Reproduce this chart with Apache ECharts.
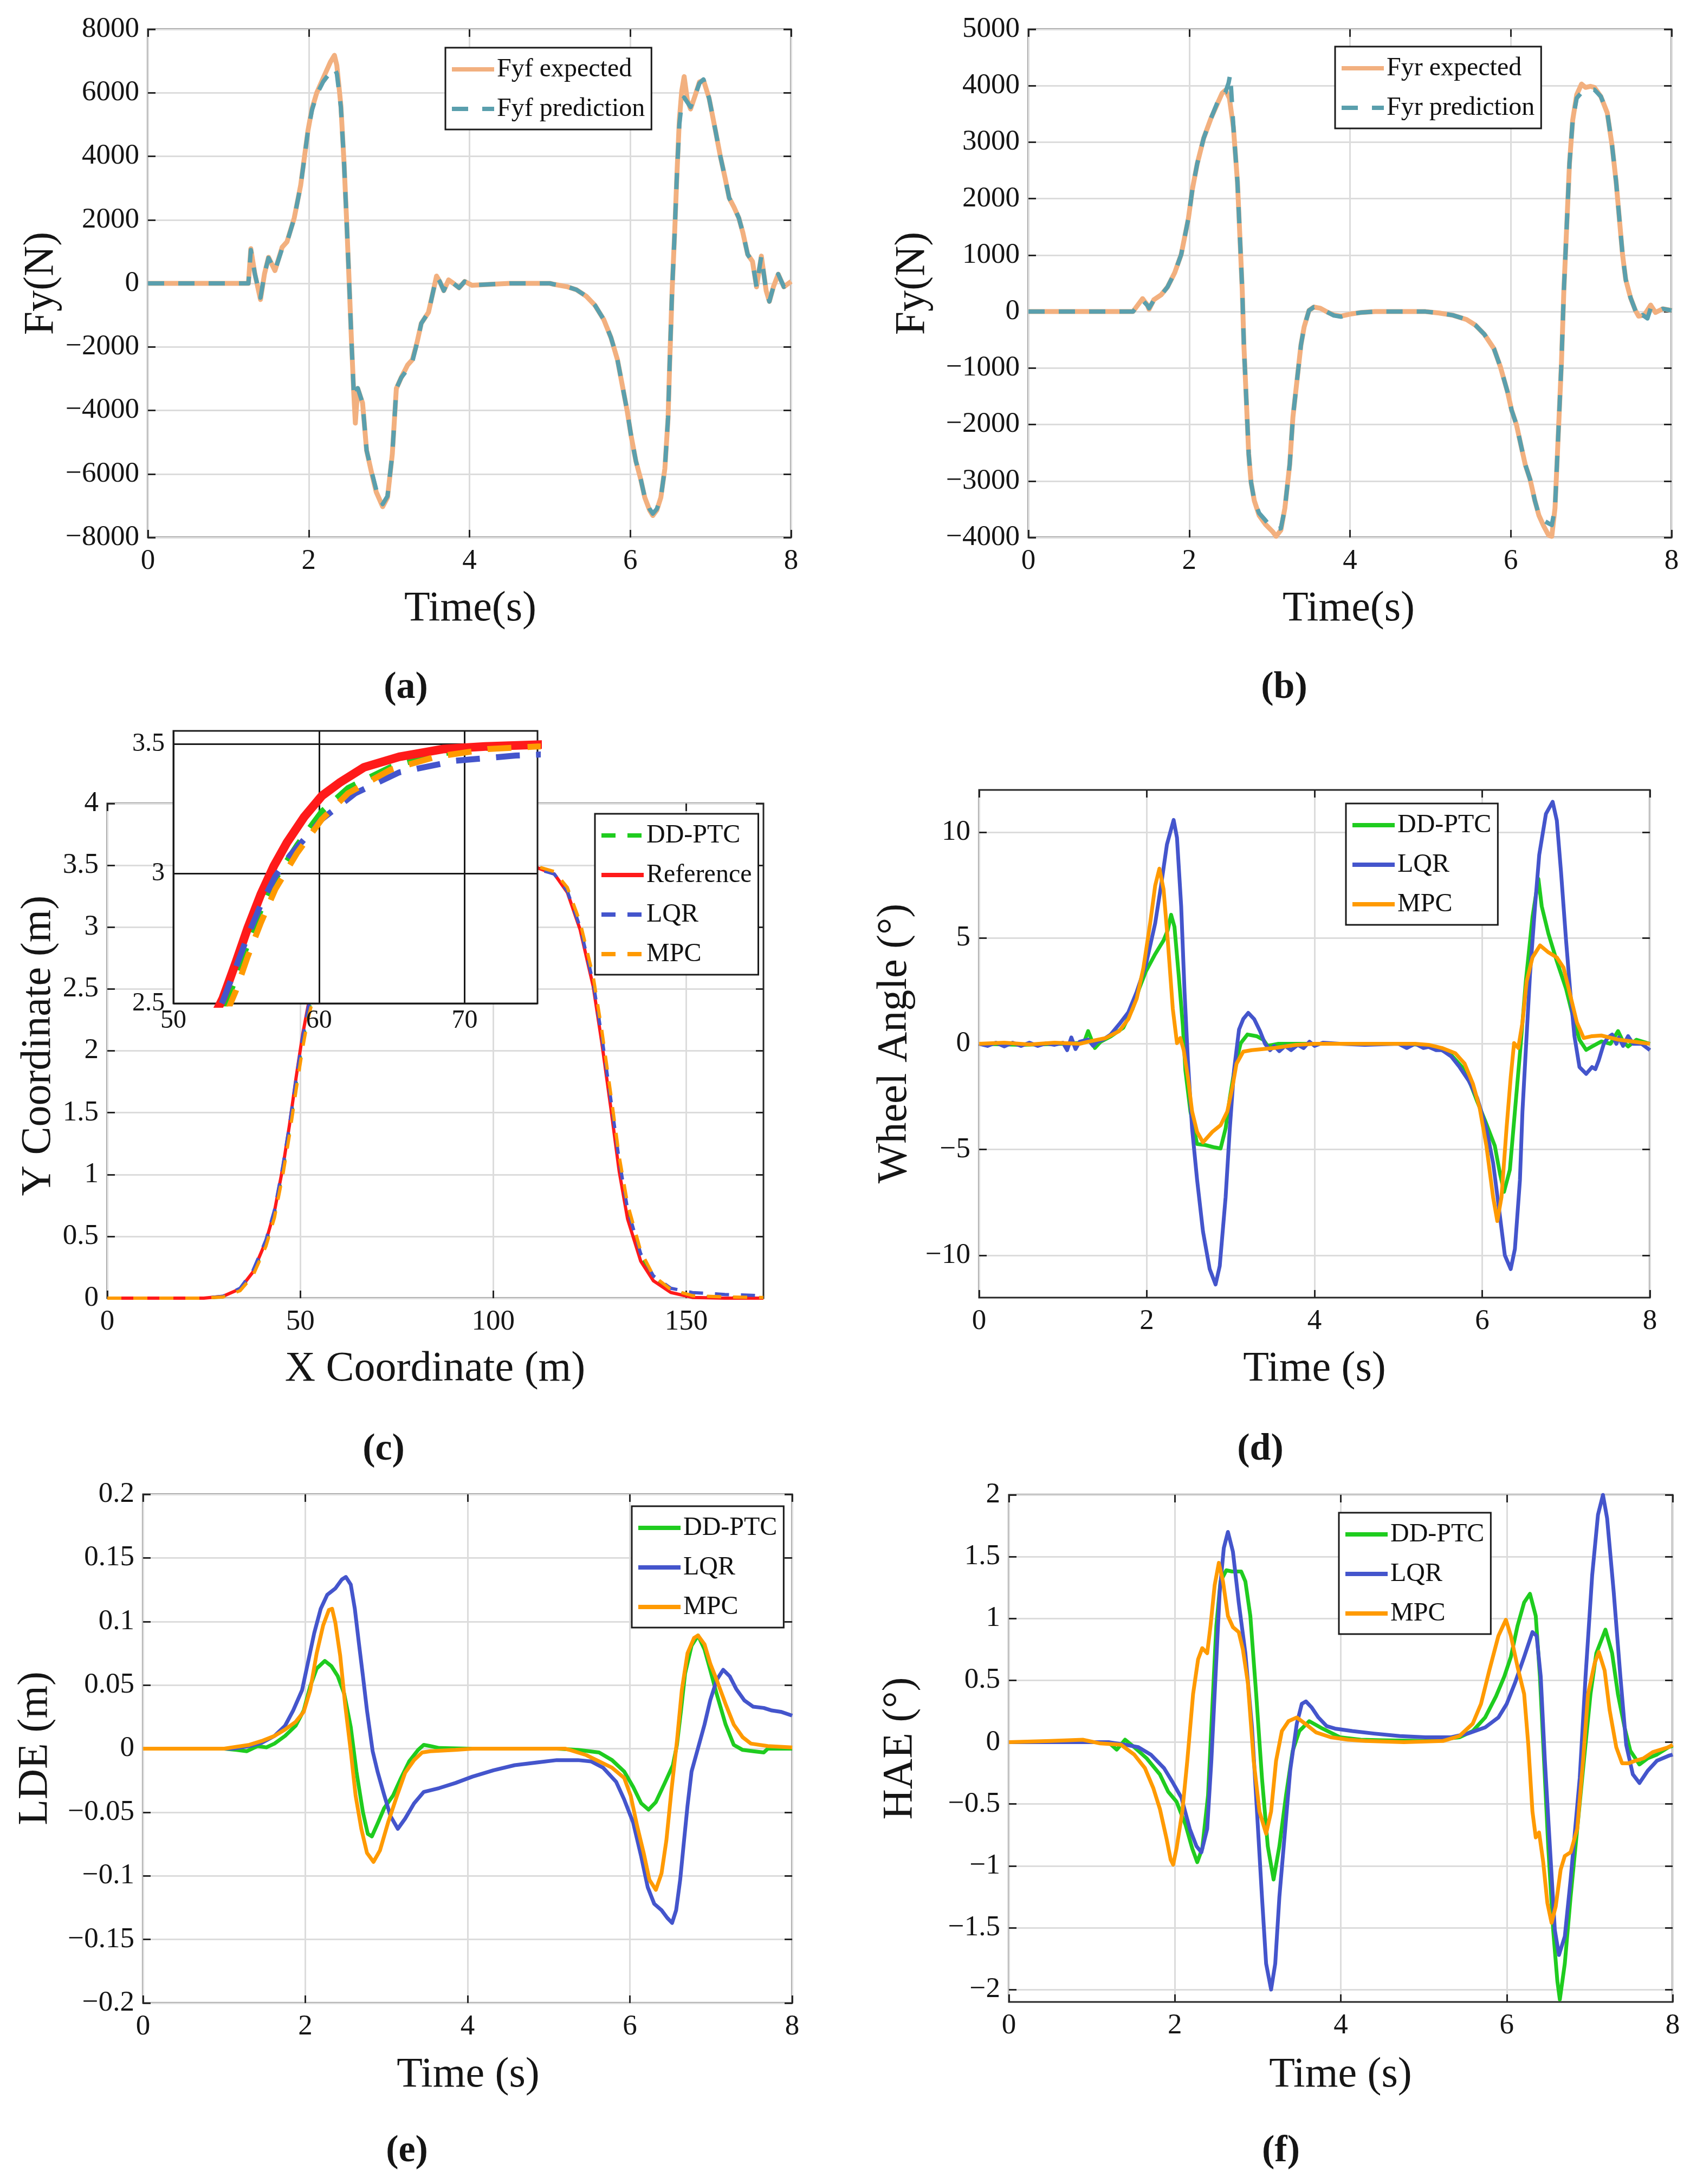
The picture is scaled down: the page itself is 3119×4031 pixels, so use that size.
<!DOCTYPE html>
<html>
<head>
<meta charset="utf-8">
<script src="https://cdn.jsdelivr.net/npm/echarts/dist/echarts.min.js"></script>
<style>
  html, body { margin: 0; padding: 0; background: #fff; }
  #chart { width: 3119px; height: 4031px; }
</style>
</head>
<body>
<div id="chart"></div>
<script>
// ---- (a) front tyre lateral force, [time s, N]
var fyfExpected = [[0,0],[1.25,0],[1.28,1090],[1.33,300],[1.40,-510],[1.45,300],[1.50,820],[1.58,400],[1.67,1140],[1.73,1310],[1.82,2060],[1.90,3090],[1.99,4800],[2.04,5490],[2.10,6000],[2.18,6460],[2.27,6970],[2.32,7180],[2.35,6860],[2.40,5600],[2.44,3770],[2.47,2060],[2.50,230],[2.53,-1710],[2.56,-3430],[2.58,-4400],[2.61,-3310],[2.67,-3770],[2.72,-5260],[2.78,-5940],[2.84,-6570],[2.92,-7030],[2.98,-6740],[3.04,-5370],[3.09,-3310],[3.15,-2970],[3.23,-2570],[3.29,-2400],[3.35,-1830],[3.40,-1260],[3.49,-910],[3.55,-230],[3.59,230],[3.63,60],[3.68,-230],[3.74,110],[3.80,0],[3.87,-140],[3.94,60],[4.03,-60],[4.5,0],[5.0,0],[5.05,-30],[5.22,-110],[5.33,-200],[5.45,-400],[5.56,-690],[5.67,-1140],[5.76,-1710],[5.84,-2400],[5.90,-3200],[5.96,-4000],[6.01,-4800],[6.07,-5600],[6.13,-6170],[6.18,-6740],[6.24,-7140],[6.28,-7310],[6.33,-7140],[6.38,-6740],[6.43,-5830],[6.47,-4230],[6.49,-2510],[6.52,-230],[6.55,1490],[6.58,3430],[6.61,5140],[6.64,6060],[6.67,6510],[6.71,5770],[6.75,5490],[6.81,5940],[6.86,6340],[6.91,6400],[6.98,5830],[7.06,4800],[7.12,4000],[7.18,3310],[7.23,2690],[7.29,2400],[7.35,2060],[7.40,1600],[7.46,910],[7.52,690],[7.57,-110],[7.63,860],[7.69,-230],[7.73,-570],[7.78,-110],[7.84,290],[7.91,-110],[8.0,60]];
var fyfPrediction = [[0,0],[1.25,0],[1.28,1050],[1.33,300],[1.40,-450],[1.45,300],[1.50,800],[1.58,400],[1.67,1100],[1.73,1300],[1.82,2050],[1.90,3080],[1.99,4780],[2.04,5450],[2.10,5950],[2.18,6350],[2.27,6650],[2.32,6780],[2.35,6600],[2.40,5550],[2.44,3770],[2.47,2060],[2.50,230],[2.53,-1710],[2.56,-3430],[2.58,-3600],[2.61,-3300],[2.67,-3770],[2.72,-5260],[2.78,-5900],[2.84,-6500],[2.92,-6950],[2.98,-6700],[3.04,-5370],[3.09,-3310],[3.15,-2970],[3.23,-2700],[3.29,-2450],[3.35,-1850],[3.40,-1260],[3.49,-910],[3.55,-230],[3.59,200],[3.63,60],[3.68,-230],[3.74,110],[3.80,0],[3.87,-140],[3.94,60],[4.03,-60],[4.5,0],[5.0,0],[5.05,-30],[5.22,-110],[5.33,-200],[5.45,-400],[5.56,-690],[5.67,-1140],[5.76,-1710],[5.84,-2400],[5.90,-3200],[5.96,-4000],[6.01,-4800],[6.07,-5600],[6.13,-6170],[6.18,-6740],[6.24,-7100],[6.28,-7250],[6.33,-7100],[6.38,-6740],[6.43,-5830],[6.47,-4230],[6.49,-2510],[6.52,-230],[6.55,1490],[6.58,3430],[6.61,5000],[6.64,5700],[6.67,5850],[6.71,5700],[6.75,5550],[6.81,5950],[6.86,6300],[6.91,6420],[6.98,5830],[7.06,4800],[7.12,4000],[7.18,3310],[7.23,2690],[7.29,2400],[7.35,2060],[7.40,1600],[7.46,910],[7.52,690],[7.57,-110],[7.63,860],[7.69,-230],[7.73,-570],[7.78,-110],[7.84,290],[7.91,-110],[8.0,60]];

// ---- (b) rear tyre lateral force, [time s, N]
var fyrExpected = [[0,0],[1.30,0],[1.36,115],[1.42,230],[1.48,115],[1.50,40],[1.56,210],[1.65,295],[1.73,435],[1.82,690],[1.90,1010],[1.99,1650],[2.04,2170],[2.10,2620],[2.18,3070],[2.27,3420],[2.35,3680],[2.41,3870],[2.45,3920],[2.50,3780],[2.55,3260],[2.60,2300],[2.63,1340],[2.66,370],[2.68,-590],[2.71,-1550],[2.74,-2520],[2.77,-3030],[2.81,-3350],[2.87,-3610],[2.95,-3770],[3.04,-3900],[3.08,-3980],[3.14,-3870],[3.19,-3480],[3.25,-2710],[3.29,-1870],[3.34,-1230],[3.39,-590],[3.43,-270],[3.49,20],[3.55,80],[3.63,60],[3.72,-10],[3.80,-60],[3.89,-80],[4.0,-45],[4.14,-15],[4.31,0],[4.94,0],[5.11,-25],[5.28,-65],[5.45,-140],[5.56,-240],[5.67,-400],[5.79,-655],[5.87,-975],[5.96,-1425],[6.01,-1745],[6.07,-2000],[6.13,-2390],[6.18,-2710],[6.24,-2970],[6.30,-3350],[6.35,-3610],[6.41,-3800],[6.47,-3960],[6.51,-3980],[6.55,-3480],[6.59,-2200],[6.63,-910],[6.66,370],[6.70,1650],[6.73,2620],[6.77,3390],[6.82,3840],[6.88,4030],[6.93,3970],[6.99,3990],[7.04,3970],[7.12,3810],[7.20,3520],[7.26,2940],[7.31,2300],[7.35,1650],[7.39,1010],[7.43,565],[7.49,245],[7.55,20],[7.59,-80],[7.66,-65],[7.74,115],[7.80,-15],[7.89,50],[8.0,20]];
var fyrPrediction = [[0,0],[1.30,0],[1.36,100],[1.42,200],[1.48,110],[1.50,60],[1.56,200],[1.65,290],[1.73,435],[1.82,690],[1.90,1010],[1.99,1650],[2.04,2170],[2.10,2620],[2.18,3070],[2.27,3420],[2.35,3700],[2.40,3860],[2.45,3880],[2.49,4050],[2.51,4200],[2.53,3750],[2.55,3260],[2.60,2300],[2.63,1340],[2.66,370],[2.68,-590],[2.71,-1550],[2.74,-2520],[2.77,-3030],[2.81,-3350],[2.87,-3570],[2.95,-3700],[3.0,-3790],[3.08,-3850],[3.14,-3840],[3.19,-3480],[3.25,-2710],[3.29,-1870],[3.34,-1230],[3.39,-590],[3.43,-270],[3.49,20],[3.55,80],[3.63,60],[3.72,-10],[3.80,-70],[3.89,-90],[4.0,-45],[4.14,-15],[4.31,0],[4.94,0],[5.11,-25],[5.28,-65],[5.45,-140],[5.56,-240],[5.67,-400],[5.79,-655],[5.87,-975],[5.96,-1425],[6.01,-1745],[6.07,-2000],[6.13,-2390],[6.18,-2710],[6.24,-2970],[6.30,-3350],[6.35,-3600],[6.41,-3700],[6.47,-3750],[6.51,-3780],[6.55,-3480],[6.59,-2200],[6.63,-910],[6.66,370],[6.70,1650],[6.73,2620],[6.77,3390],[6.82,3780],[6.88,3880],[6.93,3920],[6.99,3930],[7.04,3930],[7.12,3810],[7.20,3520],[7.26,2940],[7.31,2300],[7.35,1650],[7.39,1010],[7.43,565],[7.49,245],[7.55,20],[7.59,-130],[7.64,-60],[7.70,-120],[7.74,60],[7.80,-15],[7.89,50],[8.0,20]];

// ---- (c) trajectory, [X m, Y m]
var trajDDPTC = [[0,0],[25,0],[30,0.012],[34.4,0.07],[37.7,0.2],[41.1,0.44],[43.3,0.68],[45.5,1.03],[47.2,1.36],[48.9,1.73],[50.6,2.07],[52.0,2.3],[53.4,2.47],[54.3,2.6],[55.1,2.73],[56.0,2.86],[57.0,2.98],[58.5,3.11],[60.2,3.24],[62.0,3.33],[64.9,3.41],[68.0,3.46],[71.6,3.485],[75,3.495],[85,3.5],[108,3.5],[111.4,3.485],[115.8,3.44],[119.2,3.30],[122.5,3.01],[125.9,2.56],[128.1,2.12],[130.4,1.60],[132.6,1.09],[134.8,0.70],[138.2,0.35],[141.5,0.17],[146,0.065],[151.6,0.015],[160,0.005],[170,0]];
var trajReference = [[0,0],[25,0],[30,0.015],[34.4,0.076],[37.7,0.21],[41.1,0.46],[43.3,0.70],[45.5,1.06],[47.2,1.40],[48.9,1.78],[50.6,2.13],[52.0,2.36],[53.4,2.52],[54.3,2.66],[55.1,2.79],[56.0,2.92],[56.9,3.03],[57.8,3.12],[59.0,3.22],[60.2,3.30],[61.4,3.35],[63.1,3.41],[65.5,3.45],[68.5,3.48],[71.4,3.49],[75,3.497],[85,3.5],[108,3.5],[111.4,3.48],[115.8,3.43],[119.2,3.28],[122.5,2.98],[125.9,2.52],[128.1,2.07],[130.4,1.55],[132.6,1.03],[134.8,0.64],[138.2,0.30],[141.5,0.14],[146,0.046],[151.6,0.006],[160,0],[170,0]];
var trajLQR = [[0,0],[25,0],[30,0.015],[34.4,0.08],[37.7,0.22],[41.1,0.47],[43.3,0.71],[45.5,1.07],[47.2,1.40],[48.9,1.77],[50.6,2.11],[52.0,2.34],[53.4,2.51],[54.3,2.64],[55.1,2.76],[56.0,2.88],[57.0,2.99],[58.0,3.07],[60.2,3.21],[62.5,3.31],[65.5,3.39],[69.4,3.435],[73.5,3.455],[80,3.47],[90,3.49],[108,3.49],[111.4,3.47],[115.8,3.43],[119.2,3.29],[122.5,3.0],[125.9,2.55],[128.1,2.12],[130.4,1.62],[132.6,1.12],[134.8,0.72],[138.2,0.36],[141.5,0.18],[146,0.08],[151.6,0.045],[160,0.03],[170,0.02]];
var trajMPC = [[0,0],[25,0],[30,0.01],[34.4,0.06],[37.7,0.18],[41.1,0.42],[43.3,0.65],[45.5,1.0],[47.2,1.32],[48.9,1.68],[50.6,2.02],[52.0,2.26],[53.4,2.43],[54.3,2.55],[55.1,2.68],[56.0,2.81],[57.0,2.94],[58.5,3.08],[60.2,3.21],[62.0,3.31],[64.9,3.40],[68.0,3.45],[71.6,3.48],[75,3.49],[85,3.5],[108,3.5],[111.4,3.49],[115.8,3.45],[119.2,3.32],[122.5,3.04],[125.9,2.60],[128.1,2.17],[130.4,1.66],[132.6,1.15],[134.8,0.76],[138.2,0.38],[141.5,0.18],[146,0.07],[151.6,0.02],[160,0.01],[170,0.005]];

// ---- (d) wheel angle, [time s, deg]
var wheelDDPTC = [[0,0],[0.5,-0.05],[1.0,0],[1.25,0.05],[1.30,0.6],[1.34,0.2],[1.38,-0.2],[1.45,0.1],[1.57,0.35],[1.72,0.76],[1.83,1.65],[1.91,2.62],[1.99,3.43],[2.10,4.24],[2.20,4.89],[2.25,5.37],[2.29,6.1],[2.33,5.53],[2.38,3.27],[2.43,0.84],[2.46,-1.26],[2.52,-3.2],[2.60,-4.74],[2.70,-4.79],[2.81,-4.9],[2.88,-4.95],[2.94,-4.0],[2.99,-2.56],[3.05,-1.1],[3.12,0.03],[3.20,0.44],[3.31,0.36],[3.39,0.19],[3.44,-0.1],[3.57,0],[4.0,0],[5.0,0],[5.3,-0.05],[5.47,-0.2],[5.63,-0.53],[5.76,-1.1],[5.86,-1.9],[5.94,-2.72],[6.04,-3.69],[6.15,-4.82],[6.21,-6.1],[6.26,-7.0],[6.33,-5.95],[6.39,-3.2],[6.46,0],[6.52,2.95],[6.60,6.0],[6.67,7.8],[6.71,6.5],[6.79,5.2],[6.89,3.9],[7.0,2.6],[7.08,1.33],[7.16,0.19],[7.24,-0.29],[7.31,-0.13],[7.42,0.11],[7.53,0],[7.62,0.6],[7.68,0.1],[7.74,-0.13],[7.84,0.19],[8.0,0]];
var wheelLQR = [[0,0],[0.1,-0.1],[0.2,0.05],[0.3,-0.12],[0.4,0.05],[0.5,-0.1],[0.6,0.05],[0.7,-0.1],[0.8,0.02],[0.9,-0.05],[1.0,0.05],[1.05,-0.3],[1.1,0.3],[1.15,-0.25],[1.2,0.1],[1.3,0.2],[1.36,-0.1],[1.41,0.1],[1.48,0.2],[1.57,0.44],[1.67,0.92],[1.78,1.49],[1.88,2.46],[1.99,3.75],[2.10,5.7],[2.17,7.48],[2.24,9.42],[2.32,10.58],[2.36,9.74],[2.41,6.5],[2.45,2.46],[2.49,-0.78],[2.54,-4.0],[2.60,-6.44],[2.67,-8.87],[2.75,-10.65],[2.82,-11.38],[2.87,-10.5],[2.94,-7.25],[2.99,-4.0],[3.04,-1.26],[3.10,0.68],[3.15,1.17],[3.21,1.46],[3.28,1.17],[3.35,0.6],[3.41,0],[3.47,-0.3],[3.52,-0.1],[3.58,-0.35],[3.65,-0.1],[3.72,-0.3],[3.80,-0.05],[3.87,-0.2],[3.94,0.1],[4.0,-0.1],[4.1,0.05],[4.3,0],[4.6,-0.05],[5.0,0],[5.1,-0.2],[5.2,0],[5.3,-0.2],[5.36,-0.15],[5.45,-0.3],[5.52,-0.3],[5.63,-0.6],[5.73,-1.1],[5.84,-1.75],[5.94,-2.56],[6.05,-4.0],[6.13,-5.63],[6.21,-8.1],[6.27,-10.0],[6.34,-10.65],[6.39,-9.7],[6.45,-6.44],[6.48,-3.2],[6.52,-0.3],[6.57,3.27],[6.63,6.5],[6.68,8.93],[6.76,10.87],[6.84,11.44],[6.89,10.55],[6.94,8.12],[7.0,4.89],[7.05,2.46],[7.10,0.36],[7.16,-1.1],[7.24,-1.42],[7.31,-1.1],[7.35,-1.2],[7.39,-0.78],[7.45,0],[7.50,0.3],[7.55,0.44],[7.60,0],[7.63,0.3],[7.68,-0.1],[7.74,0.36],[7.80,0],[7.90,0],[8.0,-0.3]];
var wheelMPC = [[0,0],[0.3,0.05],[0.6,-0.03],[0.9,0.05],[1.2,0],[1.30,0.1],[1.51,0.27],[1.67,0.6],[1.78,1.17],[1.88,2.14],[1.96,3.6],[2.04,5.7],[2.10,7.48],[2.15,8.28],[2.20,7.3],[2.25,4.89],[2.31,1.65],[2.36,0.03],[2.40,0.27],[2.44,-0.3],[2.49,-1.58],[2.54,-3.2],[2.60,-4.17],[2.67,-4.66],[2.78,-4.17],[2.88,-3.85],[2.96,-3.2],[3.02,-2.07],[3.07,-0.94],[3.15,-0.37],[3.25,-0.3],[3.52,-0.2],[3.78,-0.05],[4.0,0],[5.2,0],[5.36,-0.05],[5.52,-0.2],[5.68,-0.45],[5.79,-0.94],[5.89,-1.9],[5.97,-3.04],[6.05,-4.82],[6.13,-7.25],[6.18,-8.38],[6.23,-7.25],[6.29,-4.0],[6.34,-1.58],[6.38,0.03],[6.43,-0.2],[6.48,1.0],[6.53,2.95],[6.60,4.08],[6.69,4.65],[6.79,4.32],[6.89,4.08],[6.97,3.6],[7.05,2.3],[7.13,1.0],[7.21,0.27],[7.31,0.36],[7.42,0.39],[7.63,0.19],[8.0,0]];

// ---- (e) lateral distance error, [time s, m]
var ldeDDPTC = [[0,0],[1.0,0],[1.15,-0.001],[1.28,-0.002],[1.41,0.002],[1.52,0.001],[1.62,0.004],[1.75,0.01],[1.88,0.018],[1.98,0.030],[2.06,0.049],[2.14,0.063],[2.24,0.069],[2.32,0.065],[2.40,0.057],[2.48,0.043],[2.56,0.017],[2.63,-0.018],[2.71,-0.050],[2.77,-0.067],[2.82,-0.069],[2.89,-0.059],[2.97,-0.047],[3.08,-0.037],[3.18,-0.023],[3.28,-0.010],[3.39,-0.001],[3.46,0.003],[3.54,0.002],[3.65,0.0005],[4.0,0],[5.1,0],[5.36,-0.001],[5.62,-0.003],[5.78,-0.009],[5.93,-0.018],[6.04,-0.030],[6.14,-0.043],[6.23,-0.048],[6.32,-0.042],[6.43,-0.027],[6.53,-0.013],[6.58,0.003],[6.63,0.030],[6.68,0.059],[6.76,0.081],[6.84,0.089],[6.92,0.078],[6.99,0.062],[7.07,0.043],[7.18,0.019],[7.28,0.003],[7.39,-0.001],[7.52,-0.002],[7.65,-0.003],[7.70,0],[7.80,0],[8.0,0]];
var ldeLQR = [[0,0],[1.1,0],[1.31,0.002],[1.46,0.0045],[1.62,0.01],[1.75,0.018],[1.85,0.030],[1.96,0.046],[2.03,0.067],[2.11,0.091],[2.19,0.110],[2.27,0.121],[2.37,0.126],[2.45,0.133],[2.50,0.135],[2.56,0.129],[2.61,0.110],[2.66,0.083],[2.71,0.057],[2.76,0.030],[2.83,-0.002],[2.89,-0.018],[2.97,-0.036],[3.05,-0.053],[3.14,-0.063],[3.23,-0.055],[3.34,-0.043],[3.46,-0.034],[3.65,-0.031],[3.85,-0.027],[4.06,-0.022],[4.32,-0.017],[4.58,-0.013],[4.84,-0.011],[5.10,-0.009],[5.36,-0.009],[5.52,-0.010],[5.67,-0.015],[5.83,-0.026],[5.93,-0.040],[6.04,-0.058],[6.14,-0.085],[6.22,-0.109],[6.30,-0.122],[6.39,-0.127],[6.46,-0.133],[6.52,-0.137],[6.57,-0.127],[6.62,-0.103],[6.66,-0.077],[6.71,-0.045],[6.76,-0.018],[6.84,0.0005],[6.92,0.019],[6.99,0.038],[7.07,0.054],[7.15,0.062],[7.23,0.057],[7.31,0.047],[7.41,0.038],[7.52,0.033],[7.65,0.032],[7.75,0.030],[7.86,0.029],[8.0,0.026]];
var ldeMPC = [[0,0],[1.0,0],[1.10,0.001],[1.31,0.003],[1.46,0.006],[1.62,0.01],[1.75,0.015],[1.88,0.021],[1.98,0.029],[2.06,0.046],[2.14,0.075],[2.22,0.097],[2.29,0.109],[2.33,0.110],[2.37,0.099],[2.43,0.073],[2.49,0.035],[2.56,-0.002],[2.62,-0.037],[2.69,-0.063],[2.76,-0.082],[2.84,-0.089],[2.92,-0.080],[3.02,-0.058],[3.13,-0.037],[3.23,-0.019],[3.34,-0.009],[3.44,-0.003],[3.54,-0.002],[3.85,-0.001],[4.06,0],[5.2,0],[5.26,-0.001],[5.46,-0.005],[5.62,-0.010],[5.78,-0.015],[5.93,-0.023],[6.01,-0.037],[6.09,-0.061],[6.17,-0.082],[6.24,-0.103],[6.32,-0.111],[6.39,-0.098],[6.45,-0.072],[6.51,-0.034],[6.58,0.006],[6.64,0.046],[6.71,0.075],[6.79,0.087],[6.84,0.089],[6.92,0.082],[6.99,0.067],[7.07,0.054],[7.18,0.035],[7.28,0.019],[7.39,0.009],[7.49,0.004],[7.70,0.002],[8.0,0.001]];

// ---- (f) heading angle error, [time s, deg]
var haeDDPTC = [[0,0],[1.2,0],[1.30,-0.06],[1.40,0.02],[1.51,-0.04],[1.66,-0.13],[1.82,-0.26],[1.92,-0.40],[2.02,-0.48],[2.13,-0.67],[2.21,-0.86],[2.27,-0.97],[2.33,-0.86],[2.40,-0.43],[2.45,0.26],[2.50,0.94],[2.55,1.30],[2.62,1.39],[2.69,1.38],[2.80,1.38],[2.85,1.30],[2.91,1.02],[2.98,0.39],[3.05,-0.29],[3.12,-0.84],[3.19,-1.11],[3.26,-0.84],[3.34,-0.43],[3.42,-0.07],[3.50,0.09],[3.62,0.17],[3.78,0.11],[3.99,0.04],[4.24,0.02],[4.50,0.016],[5.02,0.01],[5.43,0.04],[5.59,0.09],[5.74,0.20],[5.87,0.37],[5.97,0.53],[6.05,0.69],[6.13,0.94],[6.21,1.13],[6.28,1.20],[6.35,1.02],[6.40,0.53],[6.45,-0.15],[6.50,-0.84],[6.56,-1.52],[6.61,-1.93],[6.64,-2.08],[6.70,-1.79],[6.77,-1.25],[6.85,-0.70],[6.93,-0.15],[7.01,0.39],[7.08,0.72],[7.19,0.91],[7.27,0.72],[7.34,0.39],[7.42,0.12],[7.49,-0.07],[7.60,-0.18],[7.70,-0.13],[7.81,-0.10],[7.95,-0.04],[8.0,-0.03]];
var haeLQR = [[0,0],[1.2,0],[1.40,-0.02],[1.56,-0.04],[1.71,-0.10],[1.87,-0.21],[1.97,-0.32],[2.08,-0.45],[2.18,-0.70],[2.26,-0.84],[2.32,-0.89],[2.39,-0.70],[2.44,-0.15],[2.49,0.53],[2.54,1.21],[2.59,1.57],[2.64,1.70],[2.70,1.54],[2.77,1.13],[2.85,0.72],[2.93,0.12],[2.99,-0.56],[3.05,-1.25],[3.10,-1.79],[3.16,-2.0],[3.21,-1.79],[3.26,-1.25],[3.33,-0.70],[3.39,-0.23],[3.47,0.15],[3.53,0.31],[3.58,0.33],[3.65,0.28],[3.73,0.20],[3.83,0.13],[3.93,0.11],[4.14,0.09],[4.40,0.07],[4.71,0.05],[5.02,0.04],[5.33,0.04],[5.53,0.07],[5.74,0.12],[5.90,0.20],[6.0,0.31],[6.10,0.48],[6.21,0.69],[6.31,0.89],[6.36,0.86],[6.41,0.53],[6.46,-0.15],[6.52,-0.84],[6.58,-1.52],[6.63,-1.72],[6.70,-1.57],[6.77,-1.11],[6.88,-0.29],[6.95,0.53],[7.03,1.35],[7.10,1.84],[7.16,2.0],[7.21,1.81],[7.29,1.21],[7.37,0.53],[7.44,-0.02],[7.52,-0.26],[7.60,-0.33],[7.70,-0.23],[7.81,-0.15],[7.95,-0.11],[8.0,-0.1]];
var haeMPC = [[0,0],[0.5,0.01],[0.89,0.02],[1.1,-0.01],[1.35,-0.02],[1.51,-0.10],[1.64,-0.21],[1.74,-0.37],[1.82,-0.54],[1.90,-0.78],[1.95,-0.95],[1.98,-0.99],[2.02,-0.86],[2.09,-0.56],[2.15,-0.15],[2.22,0.39],[2.28,0.67],[2.33,0.76],[2.39,0.72],[2.43,0.94],[2.48,1.27],[2.53,1.45],[2.58,1.30],[2.64,1.02],[2.70,0.93],[2.77,0.89],[2.82,0.75],[2.88,0.48],[2.95,-0.15],[3.02,-0.56],[3.10,-0.74],[3.16,-0.56],[3.22,-0.15],[3.29,0.09],[3.37,0.17],[3.47,0.20],[3.57,0.15],[3.70,0.08],[3.88,0.04],[4.09,0.02],[4.30,0.01],[4.76,0],[5.23,0.01],[5.43,0.05],[5.59,0.15],[5.69,0.31],[5.79,0.58],[5.90,0.86],[5.99,0.99],[6.05,0.86],[6.13,0.61],[6.21,0.39],[6.26,-0.02],[6.31,-0.56],[6.35,-0.77],[6.39,-0.73],[6.44,-0.97],[6.49,-1.30],[6.54,-1.46],[6.59,-1.33],[6.65,-1.03],[6.70,-0.92],[6.77,-0.89],[6.85,-0.70],[6.92,-0.15],[6.98,0.39],[7.06,0.64],[7.11,0.73],[7.18,0.58],[7.24,0.26],[7.32,-0.04],[7.39,-0.17],[7.47,-0.17],[7.55,-0.15],[7.65,-0.13],[7.76,-0.08],[7.95,-0.04],[8.0,-0.02]];

// ---- tick values
var timeTicks = [0, 2, 4, 6, 8];
var fyfTicks = [-8000, -6000, -4000, -2000, 0, 2000, 4000, 6000, 8000];
var fyrTicks = [-4000, -3000, -2000, -1000, 0, 1000, 2000, 3000, 4000, 5000];
var trajXTicks = [0, 50, 100, 150];
var trajYTicks = [0, 0.5, 1, 1.5, 2, 2.5, 3, 3.5, 4];
var insetXTicks = [50, 60, 70];
var insetYTicks = [2.5, 3, 3.5];
var wheelTicks = [-10, -5, 0, 5, 10];
var ldeTicks = [-0.2, -0.15, -0.1, -0.05, 0, 0.05, 0.1, 0.15, 0.2];
var haeTicks = [-2, -1.5, -1, -0.5, 0, 0.5, 1, 1.5, 2];

var FONT = 'Liberation Serif';
var INK = '#262626';
var cGreen = '#1fcc1f', cBlue = '#4455cc', cOrange = '#ff9a00', cRed = '#ff1a1a';
var cSalmon = '#f2b07f', cTeal = '#5a9fad';
// the trajectory legend needs its own (dashed) entries, so its names carry a zero-width space
var ZW = '\u200b';

var chart = echarts.init(document.getElementById('chart'), null, {renderer: 'canvas', width: 3119, height: 4031});

var option = {
  animation: false,
  backgroundColor: '#fff',
  grid: [], xAxis: [], yAxis: [], series: [], legend: [], graphic: []
};
var labelJobs = [];

function minus(v) { return String(v).replace('-', '\u2212'); }

// one MATLAB-like axes box: grid + bottom/left axes + top/right tick-only axes
function addAxes(box, xs, ys, o) {
  o = o || {};
  var gi = option.grid.length;
  var z = o.z || 0;
  option.grid.push({
    left: box[0], top: box[1], width: box[2] - box[0], height: box[3] - box[1],
    show: true, borderColor: o.border || INK, borderWidth: 3,
    backgroundColor: o.bg || 'transparent', z: z
  });
  var xi = option.xAxis.length, yi = option.yAxis.length;
  function axis(s, pos, main) {
    return {
      type: 'value', gridIndex: gi, position: pos, min: s.min, max: s.max, z: z + 1,
      axisLine: {show: false, onZero: false},
      axisTick: {show: o.ticks !== false, inside: true, length: 14, customValues: s.ticks,
        lineStyle: {color: INK, width: 3}},
      axisLabel: {show: false, customValues: s.ticks},
      splitLine: {show: main, lineStyle: {color: o.gridColor || '#dcdcdc', width: 3}}
    };
  }
  option.xAxis.push(axis(xs, 'bottom', true), axis(xs, 'top', false));
  option.yAxis.push(axis(ys, 'left', true), axis(ys, 'right', false));
  var ax = {x: xi, y: yi};
  labelJobs.push({ax: ax, box: box, xt: xs.ticks, yt: ys.ticks, fs: o.fs || 53, gap: o.gap || 18, z: z + 2});
  return ax;
}

function line(name, data, ax, color, width, dash, z) {
  return {
    type: 'line', name: name, data: data, xAxisIndex: ax.x, yAxisIndex: ax.y,
    symbol: 'none', showSymbol: false, silent: true, clip: true, z: z || 2,
    lineStyle: {color: color, width: width, type: dash || 'solid', cap: 'butt', join: 'round'},
    itemStyle: {color: color}
  };
}

function legend(names, left, top, lw) {
  option.legend.push({
    data: names, left: left, top: top, orient: 'vertical', selectedMode: false,
    itemWidth: 78, itemHeight: 30, itemGap: 25, padding: [16, 12, 14, 8],
    backgroundColor: '#fff', borderColor: '#1a1a1a', borderWidth: 3, borderRadius: 0,
    itemStyle: {opacity: 0},
    lineStyle: {width: lw},
    textStyle: {fontFamily: FONT, fontSize: 48, lineHeight: 30, color: '#111'}
  });
}

function text(str, x, y, size, rot, bold, align, valign, z) {
  option.graphic.push({
    type: 'text', x: x, y: y, rotation: rot ? Math.PI / 2 : 0, silent: true, z: z || 0,
    style: {text: str, fontFamily: FONT, fontSize: size, fontWeight: bold ? 'bold' : 'normal',
      fill: '#151515', align: align || 'center', verticalAlign: valign || 'middle'}
  });
}

var timeAxis = {min: 0, max: 8, ticks: timeTicks};
var dashA = [30, 26];

// (a)
var axA = addAxes([273, 54, 1460, 992], timeAxis, {min: -8000, max: 8000, ticks: fyfTicks});
option.series.push(line('Fyf expected', fyfExpected, axA, cSalmon, 9));
option.series.push(line('Fyf prediction', fyfPrediction, axA, cTeal, 8, dashA));
legend(['Fyf expected', 'Fyf prediction'], 822, 88, 8);

// (b)
var axB = addAxes([1898, 54, 3085, 992], timeAxis, {min: -4000, max: 5000, ticks: fyrTicks});
option.series.push(line('Fyr expected', fyrExpected, axB, cSalmon, 9));
option.series.push(line('Fyr prediction', fyrPrediction, axB, cTeal, 8, dashA));
legend(['Fyr expected', 'Fyr prediction'], 2464, 86, 8);

// (c) main
var axC = addAxes([198, 1483, 1409, 2396], {min: 0, max: 170, ticks: trajXTicks}, {min: 0, max: 4, ticks: trajYTicks});
option.series.push(line('DD-PTC' + ZW, trajDDPTC, axC, cGreen, 6, [26, 22]));
option.series.push(line('Reference', trajReference, axC, cRed, 6));
option.series.push(line('LQR' + ZW, trajLQR, axC, cBlue, 6, [26, 22]));
option.series.push(line('MPC' + ZW, trajMPC, axC, cOrange, 6, [26, 22]));
legend(['DD-PTC' + ZW, 'Reference', 'LQR' + ZW, 'MPC' + ZW], 1098, 1502, 8);

// (c) inset zoom
var axI = addAxes([320, 1349, 992, 1852], {min: 50, max: 75, ticks: insetXTicks},
  {min: 2.5, max: 3.55, ticks: insetYTicks},
  {z: 5, bg: '#fff', ticks: false, fs: 48, gap: 8, gridColor: '#1a1a1a', border: '#1a1a1a'});
option.series.push(line('inset DD-PTC', trajDDPTC, axI, cGreen, 11, [44, 30], 7));
option.series.push(line('inset Reference', trajReference, axI, cRed, 16, 'solid', 7));
option.series.push(line('inset LQR', trajLQR, axI, cBlue, 11, [44, 30], 7));
option.series.push(line('inset MPC', trajMPC, axI, cOrange, 11, [44, 30], 7));

// (d)
var axD = addAxes([1807, 1458, 3045, 2395], timeAxis, {min: -12, max: 12, ticks: wheelTicks});
option.series.push(line('DD-PTC', wheelDDPTC, axD, cGreen, 7));
option.series.push(line('LQR', wheelLQR, axD, cBlue, 7));
option.series.push(line('MPC', wheelMPC, axD, cOrange, 7));
legend(['DD-PTC', 'LQR', 'MPC'], 2484, 1483, 8);

// (e)
var axE = addAxes([264, 2758, 1462, 3697], timeAxis, {min: -0.2, max: 0.2, ticks: ldeTicks});
option.series.push(line('DD-PTC', ldeDDPTC, axE, cGreen, 7));
option.series.push(line('LQR', ldeLQR, axE, cBlue, 7));
option.series.push(line('MPC', ldeMPC, axE, cOrange, 7));
legend(['DD-PTC', 'LQR', 'MPC'], 1166, 2780, 8);

// (f)
var axF = addAxes([1862, 2759, 3087, 3695], timeAxis, {min: -2.1, max: 2, ticks: haeTicks});
option.series.push(line('DD-PTC', haeDDPTC, axF, cGreen, 7));
option.series.push(line('LQR', haeLQR, axF, cBlue, 7));
option.series.push(line('MPC', haeMPC, axF, cOrange, 7));
legend(['DD-PTC', 'LQR', 'MPC'], 2471, 2792, 8);

// axis titles and captions
text('Fy(N)', 77, 523, 78, true);
text('Time(s)', 868, 1125, 78);
text('(a)', 749, 1270, 70, false, true);
text('Fy(N)', 1685, 523, 78, true);
text('Time(s)', 2489, 1125, 78);
text('(b)', 2370, 1270, 70, false, true);
text('Y Coordinate (m)', 72, 1930, 78, true);
text('X Coordinate (m)', 803, 2528, 78);
text('(c)', 708, 2676, 70, false, true);
text('Wheel Angle (\u00b0)', 1652, 1926, 78, true);
text('Time (s)', 2426, 2528, 78);
text('(d)', 2326, 2676, 70, false, true);
text('LDE (m)', 66, 3227, 78, true);
text('Time (s)', 864, 3831, 78);
text('(e)', 751, 3971, 70, false, true);
text('HAE (\u00b0)', 1662, 3227, 78, true);
text('Time (s)', 2474, 3831, 78);
text('(f)', 2364, 3971, 70, false, true);

chart.setOption(option);

// tick labels, placed from the axes' own scales
labelJobs.forEach(function (j) {
  j.xt.forEach(function (v) {
    var px = chart.convertToPixel({xAxisIndex: j.ax.x}, v);
    text(minus(v), px, j.box[3] + j.gap, j.fs, false, false, 'center', 'top', j.z);
  });
  j.yt.forEach(function (v) {
    var py = chart.convertToPixel({yAxisIndex: j.ax.y}, v);
    text(minus(v), j.box[0] - 16, py, j.fs, false, false, 'right', 'middle', j.z);
  });
});
chart.setOption({graphic: option.graphic});
</script>
</body>
</html>
